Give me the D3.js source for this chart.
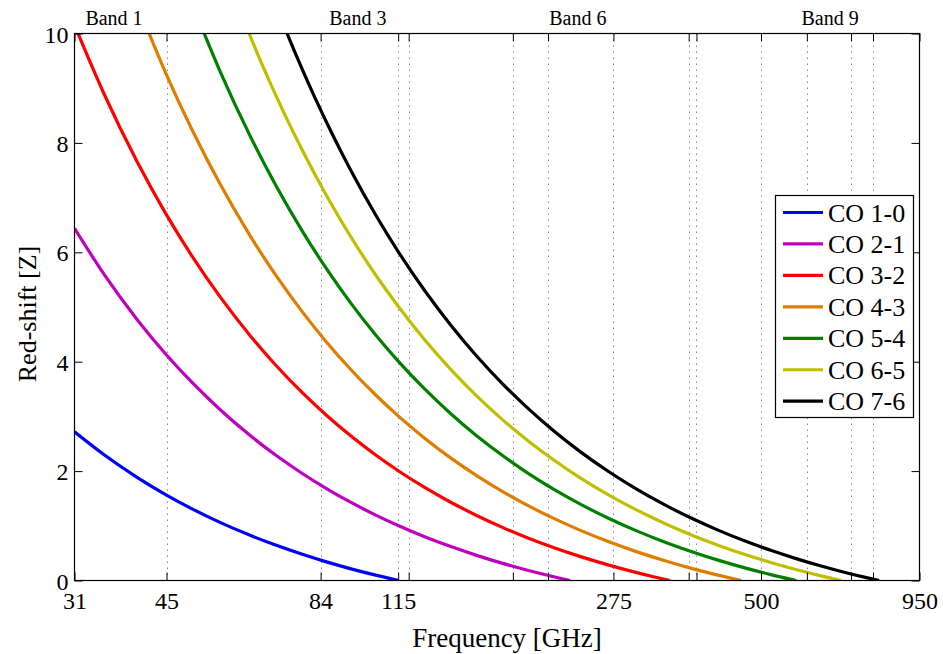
<!DOCTYPE html>
<html>
<head>
<meta charset="utf-8">
<script src="https://cdn.jsdelivr.net/npm/d3@7"></script>
<style>
  html, body { margin: 0; padding: 0; background: #ffffff; }
  svg { display: block; }
</style>
</head>
<body>
<svg id="chart" width="943" height="654"></svg>
<script>
// Red-shifted CO ladder: observed frequency (GHz) vs redshift z
const seriesNames = ["CO 1-0", "CO 2-1", "CO 3-2", "CO 4-3", "CO 5-4", "CO 6-5", "CO 7-6"];
const seriesColors = ["#0000ff", "#bf00bf", "#ff0000", "#de7d00", "#008000", "#bfbf00", "#000000"];

const co10Freq = [31, 35, 40, 45, 50, 56, 63, 70, 78, 86, 95, 105, 115.27];
const co10Z    = [2.718, 2.293, 1.882, 1.562, 1.305, 1.058, 0.830, 0.647, 0.478, 0.340, 0.213, 0.098, 0];

const co21Freq = [31, 35, 40, 45, 50, 56, 63, 70, 78, 86, 95, 105, 115, 128, 142, 158, 175, 195, 215, 230.54];
const co21Z    = [6.437, 5.587, 4.764, 4.123, 3.611, 3.117, 2.659, 2.293, 1.956, 1.681, 1.427, 1.196, 1.005, 0.801, 0.624, 0.459, 0.317, 0.182, 0.072, 0];

const co32Freq = [31, 35, 40, 45, 50, 56, 63, 70, 78, 86, 95, 105, 115, 128, 142, 158, 175, 195, 215, 240, 270, 300, 325, 345.8];
const co32Z    = [10.155, 8.880, 7.645, 6.684, 5.916, 5.175, 4.489, 3.940, 3.433, 3.021, 2.640, 2.293, 2.007, 1.702, 1.435, 1.189, 0.976, 0.773, 0.608, 0.441, 0.281, 0.153, 0.064, 0];

const co43Freq = [40, 45, 50, 56, 63, 70, 78, 86, 95, 105, 115, 128, 142, 158, 175, 195, 215, 240, 270, 300, 340, 380, 420, 461.04];
const co43Z    = [10.526, 9.245, 8.221, 7.233, 6.318, 5.586, 4.911, 4.361, 3.853, 3.391, 3.009, 2.602, 2.247, 1.918, 1.635, 1.364, 1.144, 0.921, 0.708, 0.537, 0.356, 0.213, 0.098, 0];

const co54Freq = [50, 56, 63, 70, 78, 86, 95, 105, 115, 128, 142, 158, 175, 195, 215, 240, 270, 300, 340, 380, 420, 470, 520, 576.27];
const co54Z    = [10.525, 9.291, 8.147, 7.232, 6.388, 5.701, 5.066, 4.488, 4.011, 3.502, 3.058, 2.647, 2.293, 1.955, 1.680, 1.401, 1.134, 0.921, 0.695, 0.517, 0.372, 0.226, 0.108, 0];

const co65Freq = [60, 66, 72, 78, 86, 95, 105, 115, 128, 142, 158, 175, 195, 215, 240, 270, 300, 340, 380, 420, 470, 520, 580, 640, 691.47];
const co65Z    = [10.525, 9.477, 8.604, 7.865, 7.040, 6.279, 5.585, 5.013, 4.402, 3.870, 3.376, 2.951, 2.546, 2.216, 1.881, 1.561, 1.305, 1.034, 0.820, 0.646, 0.471, 0.330, 0.192, 0.080, 0];

const co76Freq = [70, 76, 82, 88, 95, 105, 115, 128, 142, 158, 175, 195, 215, 240, 270, 300, 340, 380, 420, 470, 520, 580, 640, 700, 760, 806.65];
const co76Z    = [10.524, 9.614, 8.837, 8.167, 7.491, 6.682, 6.014, 5.302, 4.681, 4.105, 3.609, 3.137, 2.752, 2.361, 1.988, 1.689, 1.373, 1.123, 0.921, 0.716, 0.551, 0.391, 0.260, 0.152, 0.061, 0];

const seriesFreqs = [co10Freq, co21Freq, co32Freq, co43Freq, co54Freq, co65Freq, co76Freq];
const seriesZs    = [co10Z, co21Z, co32Z, co43Z, co54Z, co65Z, co76Z];

// Axis ticks (frequency ticks double as band-edge grid lines)
const xTickValues = [31, 45, 84, 115, 120, 183, 211, 275, 373, 385, 500, 602, 720, 787, 950];
const xTickLabels = [31, 45, 84, 115, 275, 500, 950];
const yTickValues = [0, 2, 4, 6, 8, 10];

// ALMA band labels above the frame
const bandNames = ["Band 1", "Band 3", "Band 6", "Band 9"];
const bandFreqs = [32.4, 87, 212, 589];

const xDomain = [31, 950];
const yDomain = [0, 10];

const FONT = "'Liberation Serif', 'Times New Roman', Times, serif";

// ---- layout ----
const plot = { left: 74.5, right: 919.5, top: 33.5, bottom: 580.5 };

const svg = d3.select("#chart");

const x = d3.scaleLog().domain(xDomain).range([plot.left, plot.right]);
const y = d3.scaleLinear().domain(yDomain).range([plot.bottom, plot.top]);

svg.append("rect").attr("width", 943).attr("height", 654).attr("fill", "#ffffff");

// vertical dotted grid
svg.append("g").attr("class", "grid")
  .selectAll("line")
  .data(xTickValues.filter(v => v > xDomain[0] && v < xDomain[1]))
  .join("line")
  .attr("x1", d => Math.round(x(d)) + 0.5)
  .attr("x2", d => Math.round(x(d)) + 0.5)
  .attr("y1", plot.top)
  .attr("y2", plot.bottom)
  .attr("stroke", "#8a8a8a")
  .attr("stroke-width", 1)
  .attr("stroke-dasharray", "1.5,4.5");

// curves
svg.append("defs").append("clipPath").attr("id", "plot-clip")
  .append("rect")
  .attr("x", plot.left).attr("y", plot.top)
  .attr("width", plot.right - plot.left).attr("height", plot.bottom - plot.top);

const line = d3.line()
  .x(d => x(d[0]))
  .y(d => y(d[1]))
  .curve(d3.curveMonotoneX);

const curves = svg.append("g").attr("clip-path", "url(#plot-clip)");
seriesNames.forEach((name, i) => {
  const pts = seriesFreqs[i].map((f, j) => [f, seriesZs[i][j]]);
  curves.append("path")
    .datum(pts)
    .attr("fill", "none")
    .attr("stroke", seriesColors[i])
    .attr("stroke-width", 3.2)
    .attr("stroke-linejoin", "round")
    .attr("d", line);
});

// axes: ticks point inward on all four sides
const fmtX = d => xTickLabels.includes(d) ? String(d) : "";

const xBottom = svg.append("g")
  .attr("transform", `translate(0,${plot.bottom})`)
  .call(d3.axisBottom(x).tickValues(xTickValues).tickFormat(fmtX)
    .tickSizeInner(-8).tickSizeOuter(0).tickPadding(11));

const xTop = svg.append("g")
  .attr("transform", `translate(0,${plot.top})`)
  .call(d3.axisTop(x).tickValues(xTickValues).tickFormat("")
    .tickSizeInner(-8).tickSizeOuter(0));

const yLeft = svg.append("g")
  .attr("transform", `translate(${plot.left},0)`)
  .call(d3.axisLeft(y).tickValues(yTickValues).tickFormat(d3.format("d"))
    .tickSizeInner(-8).tickSizeOuter(0).tickPadding(6));

const yRight = svg.append("g")
  .attr("transform", `translate(${plot.right},0)`)
  .call(d3.axisRight(y).tickValues(yTickValues).tickFormat("")
    .tickSizeInner(-8).tickSizeOuter(0));

[xBottom, xTop, yLeft, yRight].forEach(g => {
  g.attr("font-family", null).attr("font-size", null);
  g.select(".domain").remove();
  g.selectAll(".tick line").attr("stroke", "#000").attr("stroke-width", 1);
  g.selectAll(".tick text")
    .attr("fill", "#000")
    .style("font-family", FONT)
    .style("font-size", "24px");
});
yLeft.selectAll(".tick text").attr("dy", "0.36em");

// frame
svg.append("rect")
  .attr("x", plot.left).attr("y", plot.top)
  .attr("width", plot.right - plot.left).attr("height", plot.bottom - plot.top)
  .attr("fill", "none").attr("stroke", "#000").attr("stroke-width", 1.2);

// band labels
svg.append("g").selectAll("text")
  .data(bandNames)
  .join("text")
  .attr("x", (d, i) => x(bandFreqs[i]))
  .attr("y", 25)
  .style("font-family", FONT)
  .style("font-size", "20px")
  .attr("fill", "#000")
  .text(d => d);

// axis titles
svg.append("text")
  .attr("x", 507)
  .attr("y", 647)
  .attr("text-anchor", "middle")
  .style("font-family", FONT)
  .style("font-size", "27px")
  .attr("fill", "#000")
  .text("Frequency [GHz]");

svg.append("text")
  .attr("transform", "translate(36,314) rotate(-90)")
  .attr("text-anchor", "middle")
  .style("font-family", FONT)
  .style("font-size", "26px")
  .attr("fill", "#000")
  .text("Red-shift [Z]");

// legend
const legend = { left: 775.5, top: 195.5, width: 138, height: 222, rowStart: 212.5, rowStep: 31.45 };
const lg = svg.append("g");
lg.append("rect")
  .attr("x", legend.left).attr("y", legend.top)
  .attr("width", legend.width).attr("height", legend.height)
  .attr("fill", "#ffffff").attr("stroke", "#000").attr("stroke-width", 1.2);

const rows = lg.selectAll("g.row")
  .data(seriesNames)
  .join("g")
  .attr("class", "row")
  .attr("transform", (d, i) => `translate(0,${legend.rowStart + i * legend.rowStep})`);

rows.append("line")
  .attr("x1", 783).attr("x2", 823)
  .attr("y1", 0).attr("y2", 0)
  .attr("stroke", (d, i) => seriesColors[i])
  .attr("stroke-width", 3.2);

rows.append("text")
  .attr("x", 828)
  .attr("y", 9)
  .style("font-family", FONT)
  .style("font-size", "26px")
  .attr("fill", "#000")
  .text(d => d);
</script>
</body>
</html>
